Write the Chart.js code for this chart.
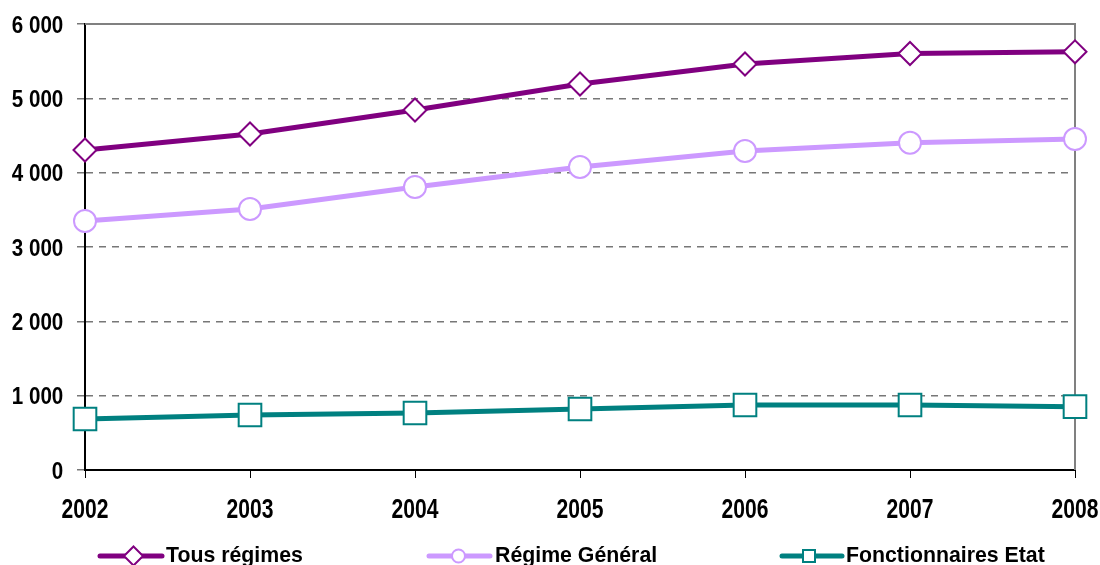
<!DOCTYPE html>
<html>
<head>
<meta charset="utf-8">
<script src="https://cdn.jsdelivr.net/npm/chart.js@4/dist/chart.umd.min.js"></script>
<style>
  html, body { margin: 0; padding: 0; background: #ffffff; }
  #wrap { width: 1100px; height: 565px; position: relative; }
</style>
</head>
<body>
<div id="wrap"><canvas id="chart"></canvas></div>
<script>
// Years on the horizontal axis
const years = ['2002', '2003', '2004', '2005', '2006', '2007', '2008'];

// Series values
const tousRegimes = [4305, 4520, 4843, 5193, 5462, 5603, 5626];
const regimeGeneral = [3350, 3511, 3807, 4076, 4292, 4403, 4453];
const fonctionnairesEtat = [686, 740, 767, 820, 874, 874, 852];

// Vertical axis ticks
const yTicks = [0, 1000, 2000, 3000, 4000, 5000, 6000];

const FONT = '"Liberation Sans", Arial, sans-serif';

function frNumber(v) {
  return String(v).replace(/\B(?=(\d{3})+(?!\d))/g, ' ');
}

// Legend entries: line sample with marker, then the label
const legendItems = [
  { label: 'Tous régimes', color: '#800080', style: 'diamond', size: 9.5, x0: 100, x1: 162, mx: 133.5, tx: 166 },
  { label: 'Régime Général', color: '#CC99FF', style: 'circle', size: 6.5, x0: 429, x1: 490, mx: 458.5, tx: 495 },
  { label: 'Fonctionnaires Etat', color: '#008080', style: 'square', size: 6, x0: 782, x1: 842, mx: 809, tx: 846 }
];

function drawMarker(ctx, style, x, y, r, color, bw) {
  ctx.save();
  ctx.beginPath();
  if (style === 'circle') {
    ctx.arc(x, y, r, 0, Math.PI * 2);
  } else if (style === 'square') {
    ctx.rect(x - r, y - r, 2 * r, 2 * r);
  } else {
    ctx.moveTo(x, y - r); ctx.lineTo(x + r, y); ctx.lineTo(x, y + r); ctx.lineTo(x - r, y); ctx.closePath();
  }
  ctx.fillStyle = '#ffffff';
  ctx.fill();
  ctx.lineWidth = bw;
  ctx.strokeStyle = color;
  ctx.stroke();
  ctx.restore();
}

// Solid grey frame on the top and right of the plot area
const framePlugin = {
  id: 'frame',
  beforeDatasetsDraw(chart) {
    const { ctx, chartArea: a } = chart;
    ctx.save();
    ctx.strokeStyle = '#808080';
    ctx.lineWidth = 2;
    ctx.beginPath();
    ctx.moveTo(a.left, a.top);
    ctx.lineTo(a.right, a.top);
    ctx.lineTo(a.right, a.bottom);
    ctx.stroke();
    ctx.restore();
  }
};

// Condensed bold axis labels, placed from the scales' own tick positions
const tickLabelPlugin = {
  id: 'tickLabels',
  afterDraw(chart) {
    const ctx = chart.ctx;
    const xs = chart.scales.x;
    const ys = chart.scales.y;
    ctx.save();
    ctx.fillStyle = '#000000';
    ctx.textBaseline = 'alphabetic';

    ctx.font = 'bold 24.5px ' + FONT;
    ctx.textAlign = 'right';
    ys.ticks.forEach(t => {
      const y = ys.getPixelForValue(t.value);
      ctx.save();
      ctx.translate(ys.right - 21.7, y + 8.7);
      ctx.scale(0.84, 1);
      ctx.fillText(frNumber(t.value), 0, 0);
      ctx.restore();
    });

    ctx.font = 'bold 28.5px ' + FONT;
    ctx.textAlign = 'center';
    xs.ticks.forEach((t, i) => {
      const x = xs.getPixelForTick(i);
      ctx.save();
      ctx.translate(x, xs.top + 48.3);
      ctx.scale(0.74, 1);
      ctx.fillText(years[i], 0, 0);
      ctx.restore();
    });
    ctx.restore();
  }
};

const legendPlugin = {
  id: 'bottomLegend',
  afterDraw(chart) {
    const ctx = chart.ctx;
    const y = 556;
    legendItems.forEach(it => {
      ctx.save();
      ctx.strokeStyle = it.color;
      ctx.lineWidth = 5;
      ctx.lineCap = 'round';
      ctx.beginPath();
      ctx.moveTo(it.x0, y);
      ctx.lineTo(it.x1, y);
      ctx.stroke();
      ctx.restore();
      drawMarker(ctx, it.style, it.mx, y, it.size, it.color, 2);
      ctx.save();
      ctx.fillStyle = '#000000';
      ctx.font = 'bold 21.3px ' + FONT;
      ctx.textBaseline = 'alphabetic';
      ctx.textAlign = 'left';
      ctx.fillText(it.label, it.tx, 562);
      ctx.restore();
    });
  }
};

const common = {
  fill: false,
  tension: 0,
  borderWidth: 5,
  pointBackgroundColor: '#ffffff',
  pointBorderWidth: 2,
  clip: false
};

new Chart(document.getElementById('chart'), {
  type: 'line',
  data: {
    labels: years,
    datasets: [
      Object.assign({}, common, {
        label: 'Tous régimes', data: tousRegimes,
        borderColor: '#800080', pointBorderColor: '#800080',
        pointStyle: 'rectRot', pointRadius: 11.5
      }),
      Object.assign({}, common, {
        label: 'Régime Général', data: regimeGeneral,
        borderColor: '#CC99FF', pointBorderColor: '#CC99FF',
        pointStyle: 'circle', pointRadius: 11
      }),
      Object.assign({}, common, {
        label: 'Fonctionnaires Etat', data: fonctionnairesEtat,
        borderColor: '#008080', pointBorderColor: '#008080',
        pointStyle: 'rect', pointRadius: 16
      })
    ]
  },
  options: {
    responsive: true,
    maintainAspectRatio: false,
    animation: false,
    events: [],
    layout: { padding: { left: 0, right: 25, top: 24, bottom: 55 } },
    plugins: {
      legend: { display: false },
      tooltip: { enabled: false }
    },
    scales: {
      x: {
        offset: false,
        grid: {
          display: true,
          drawOnChartArea: false,
          drawTicks: true,
          tickLength: 8,
          tickColor: '#000000',
          tickWidth: 1
        },
        border: { display: true, color: '#000000', width: 2 },
        ticks: { display: false },
        afterFit(scale) { scale.height = 40; }
      },
      y: {
        min: 0,
        max: 6000,
        afterBuildTicks(scale) { scale.ticks = yTicks.map(v => ({ value: v })); },
        grid: {
          color: '#777777',
          lineWidth: 1.5,
          drawTicks: true,
          tickLength: 8,
          tickColor: '#777777',
          tickWidth: 1.5
        },
        border: { display: true, color: '#000000', width: 2, dash: [7, 6] },
        ticks: { display: false },
        afterFit(scale) { scale.width = 85; }
      }
    }
  },
  plugins: [framePlugin, tickLabelPlugin, legendPlugin]
});
</script>
</body>
</html>
